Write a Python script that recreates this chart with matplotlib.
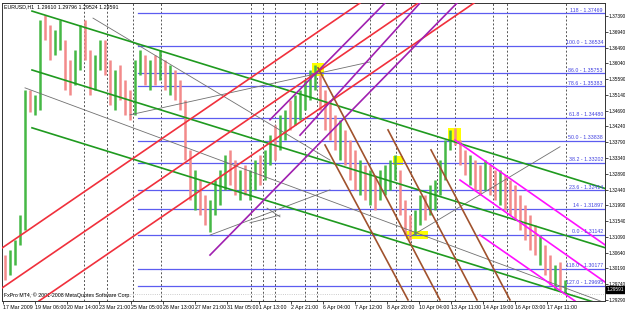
import matplotlib
matplotlib.use('Agg')
import matplotlib.pyplot as plt

plt.rcParams['font.family'] = ['Liberation Sans Narrow', 'Liberation Sans', 'DejaVu Sans']

# ---- price bars (grouped, 5 bars per group) ----
bar_x = list(range(5, 566, 5))
bar_high = [1.3057, 1.3071, 1.3100, 1.3171, 1.3528, 1.3528, 1.3514, 1.3728, 1.3742, 1.3713,
            1.3699, 1.3728, 1.3671, 1.3614, 1.3642, 1.3713, 1.3728, 1.3642, 1.3628, 1.3671,
            1.3671, 1.3614, 1.3585, 1.3599, 1.3556, 1.3528, 1.3614, 1.3642, 1.3628, 1.3614,
            1.3628, 1.3642, 1.3614, 1.3599, 1.3585, 1.3556, 1.3499, 1.3357, 1.3300, 1.3271,
            1.3228, 1.3214, 1.3271, 1.3300, 1.3343, 1.3357, 1.3328, 1.3300, 1.3314, 1.3300,
            1.3328, 1.3343, 1.3357, 1.3399, 1.3428, 1.3457, 1.3471, 1.3499, 1.3514, 1.3528,
            1.3556, 1.3585, 1.3599, 1.3571, 1.3528, 1.3499, 1.3457, 1.3442, 1.3414, 1.3385,
            1.3357, 1.3328, 1.3314, 1.3300, 1.3286, 1.3300, 1.3314, 1.3328, 1.3343, 1.3300,
            1.3214, 1.3171, 1.3186, 1.3228, 1.3228, 1.3257, 1.3271, 1.3328, 1.3385, 1.3414,
            1.3420, 1.3385, 1.3357, 1.3343, 1.3328, 1.3314, 1.3328, 1.3314, 1.3300, 1.3300,
            1.3286, 1.3271, 1.3257, 1.3228, 1.3200, 1.3171, 1.3143, 1.3114, 1.3086, 1.3057,
            1.3029, 1.3037, 1.2986]
bar_low = [1.2986, 1.3000, 1.3029, 1.3086, 1.3129, 1.3466, 1.3457, 1.3471, 1.3671, 1.3614,
           1.3628, 1.3642, 1.3528, 1.3514, 1.3542, 1.3585, 1.3614, 1.3514, 1.3528, 1.3585,
           1.3571, 1.3485, 1.3471, 1.3499, 1.3457, 1.3442, 1.3457, 1.3571, 1.3542, 1.3528,
           1.3542, 1.3556, 1.3528, 1.3514, 1.3499, 1.3471, 1.3328, 1.3214, 1.3186, 1.3171,
           1.3143, 1.3123, 1.3171, 1.3200, 1.3243, 1.3257, 1.3228, 1.3214, 1.3228, 1.3214,
           1.3243, 1.3257, 1.3271, 1.3314, 1.3328, 1.3357, 1.3385, 1.3414, 1.3428, 1.3442,
           1.3471, 1.3499, 1.3528, 1.3471, 1.3414, 1.3385, 1.3357, 1.3328, 1.3314, 1.3271,
           1.3243, 1.3228, 1.3214, 1.3200, 1.3186, 1.3214, 1.3228, 1.3243, 1.3271, 1.3171,
           1.3114, 1.3100, 1.3114, 1.3143, 1.3157, 1.3171, 1.3186, 1.3228, 1.3271, 1.3357,
           1.3371, 1.3314, 1.3286, 1.3257, 1.3243, 1.3228, 1.3243, 1.3228, 1.3214, 1.3200,
           1.3186, 1.3171, 1.3157, 1.3129, 1.3100, 1.3071, 1.3057, 1.3029, 1.3000, 1.2972,
           1.2957, 1.2957, 1.2952]
bar_dir = ("dggggdggdd" "ggddggddgg" "ddgdddggdg" "dgdgddddgd" "dggggddgdg" "gdggdggdgg"
           "gggddddgdd" "dgdgdggggd" "ddggdggggg" "dddgddgddg" "dddddddgdd" "gdg")

# ---- axes ----
price_ticks = [1.29290, 1.29740, 1.30190, 1.30640, 1.31090, 1.31540, 1.31990, 1.32440,
               1.32890, 1.33340, 1.33790, 1.34240, 1.34690, 1.35140, 1.35590, 1.36040,
               1.36490, 1.36940, 1.37390]
date_ticks = [3, 35, 67, 99, 131, 163, 195, 227, 259, 291, 323, 355, 387, 419, 451, 483, 515, 547]
date_labels = ['17 Mar 2009', '19 Mar 06:00', '20 Mar 14:00', '23 Mar 21:00', '25 Mar 05:00',
               '26 Mar 13:00', '27 Mar 21:00', '31 Mar 05:00', '1 Apr 13:00', '2 Apr 21:00',
               '6 Apr 04:00', '7 Apr 12:00', '8 Apr 20:00', '10 Apr 04:00', '13 Apr 11:00',
               '14 Apr 19:00', '16 Apr 03:00', '17 Apr 11:00']

# ---- fibonacci levels ----
fib_prices = [1.37469, 1.36534, 1.35753, 1.35383, 1.34480, 1.33838, 1.33202, 1.32414,
              1.31897, 1.31142, 1.30177, 1.29695]
fib_labels = ['118 - 1.37469', '100.0 - 1.36534', '86.0 - 1.35753', '78.6 - 1.35383',
              '61.8 - 1.34480', '50.0 - 1.33838', '38.2 - 1.33202', '23.6 - 1.32414',
              '14 - 1.31897', '0.0 - 1.31142', '118.0 - 1.30177', '127.0 - 1.29695']
fib_start = 138

# ---- vertical lines ----
vline_x = [84, 107, 133, 161, 251, 263, 275, 305, 317, 370, 396, 411, 437, 455, 493, 507, 566]

# ---- trend lines (two anchor points each: bar, price) ----
green_lines = [((32, 1.3753), (605, 1.3247)),
               ((32, 1.3585), (605, 1.3078)),
               ((32, 1.3420), (605, 1.2913))]
red_lines = [((2, 1.3077), (360, 1.3776)),
             ((2, 1.2963), (418, 1.3776)),
             ((39, 1.2926), (474, 1.3776))]
purple_lines = [((210, 1.3057), (457, 1.3776)),
                ((270, 1.3443), (385, 1.3776)),
                ((300, 1.3399), (420, 1.3776))]
brown_lines = [((318, 1.3591), (440, 1.2929)),
               ((325, 1.3371), (408, 1.2929)),
               ((388, 1.3414), (477, 1.2929)),
               ((431, 1.3357), (510, 1.2929))]
magenta_lines = [((455, 1.3385), (605, 1.3086)),
                 ((460, 1.3271), (605, 1.2980)),
                 ((480, 1.3114), (575, 1.2926))]
gray_lines = [((25, 1.3534), (605, 1.2921)),
              ((93, 1.3733), (330, 1.3328)),
              ((130, 1.3457), (370, 1.3608)),
              ((210, 1.3114), (330, 1.3243)),
              ((250, 1.3149), (280, 1.3171)),
              ((267, 1.3191), (280, 1.3166)),
              ((410, 1.3109), (560, 1.3366))]

# ---- yellow marker boxes (bar0, bar1, price_lo, price_hi) ----
boxes = [(312, 324, 1.3568, 1.3605), (448, 461, 1.3382, 1.3420),
         (393, 403, 1.3314, 1.3340), (406, 428, 1.3103, 1.3126)]

current_price = 1.29591

fig = plt.figure(figsize=(6.25, 3.1), dpi=100)
ax = fig.add_axes([2 / 625, 9 / 310, 603 / 625, 298 / 310])
ax.set_xlim(2, 605)
ax.set_ylim(1.29259, 1.37761)

for x in vline_x:
    ax.axvline(x, color='#555555', lw=0.7, ls=(0, (2, 2)), zorder=1)

for x0, x1, lo, hi in boxes:
    ax.fill_between([x0, x1], lo, hi, color='#ffff00', lw=0, zorder=2)

for p, lab in zip(fib_prices, fib_labels):
    ax.plot([fib_start, 605], [p, p], color='#5c5cf0', lw=0.9, zorder=2)
    ax.text(603, p + 0.0002, lab, color='#4040e0', fontsize=3.8, ha='right', va='bottom', zorder=6)

up = [c == 'g' for c in bar_dir]
ax.vlines([x for x, u in zip(bar_x, up) if u], [l for l, u in zip(bar_low, up) if u],
          [h for h, u in zip(bar_high, up) if u], colors='#45b845', lw=1.8, zorder=3)
ax.vlines([x for x, u in zip(bar_x, up) if not u], [l for l, u in zip(bar_low, up) if not u],
          [h for h, u in zip(bar_high, up) if not u], colors='#f38a8a', lw=1.8, zorder=3)

for (x0, y0), (x1, y1) in gray_lines:
    ax.plot([x0, x1], [y0, y1], color='#707070', lw=0.6, zorder=4)
for lines, col in [(green_lines, '#1f9a1f'), (red_lines, '#f0303c'), (purple_lines, '#a020b0'),
                   (brown_lines, '#a0522d'), (magenta_lines, '#ff10ff')]:
    for (x0, y0), (x1, y1) in lines:
        ax.plot([x0, x1], [y0, y1], color=col, lw=1.2, zorder=4)

ax.axhline(1.2946, color='#bbbbbb', lw=0.6, ls=':', zorder=1)

ax.yaxis.tick_right()
ax.set_yticks(price_ticks)
ax.set_yticklabels([f'{v:.5f}' for v in price_ticks])
ax.set_xticks(date_ticks)
ax.set_xticklabels(date_labels)
ax.tick_params(axis='both', length=2, width=0.5, pad=1, colors='black')
ax.tick_params(axis='x', labelsize=3.8)
ax.tick_params(axis='y', labelsize=3.4, pad=0.6)
for lbl in ax.get_xticklabels():
    lbl.set_ha('left')
for sp in ax.spines.values():
    sp.set_linewidth(0.7)
    sp.set_color('#333333')

ax.text(607, current_price, f'{current_price:.5f}', transform=ax.transData, fontsize=3.4,
        color='white', va='center', ha='left', clip_on=False,
        bbox=dict(boxstyle='square,pad=0.15', fc='black', ec='black'))

ax.text(0.003, 0.995, 'EURUSD,H1  1.29610 1.29796 1.29524 1.29591', transform=ax.transAxes,
        fontsize=3.8, va='top', ha='left')
ax.text(0.003, 0.01, 'FxPro MT4, \u00a9 2001-2008 MetaQuotes Software Corp.', transform=ax.transAxes,
        fontsize=3.8, va='bottom', ha='left')

fig.savefig('out.png', dpi=100)
